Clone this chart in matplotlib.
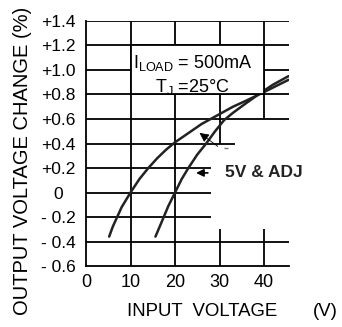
import numpy as np
import matplotlib
matplotlib.use('Agg')
import matplotlib.pyplot as plt
from matplotlib.patches import Rectangle

plt.rcParams['font.family'] = 'Liberation Sans'

# curves
vin_a = [5.2, 6.0, 8.0, 10.0, 12.0, 14.0, 16.0, 18.0, 20.0, 22.0, 24.0,
         26.0, 28.0, 30.0, 33.0, 36.0, 40.0, 45.5]
dv_a = [-0.36, -0.28, -0.12, 0.0, 0.11, 0.20, 0.28, 0.35, 0.41, 0.46, 0.51,
        0.56, 0.60, 0.64, 0.70, 0.75, 0.82, 0.92]
vin_b = [15.6, 17.0, 18.5, 20.0, 21.5, 23.0, 25.0, 27.0, 29.0, 31.0, 33.0,
         36.0, 39.5, 42.0, 45.5]
dv_b = [-0.36, -0.24, -0.11, 0.0, 0.11, 0.20, 0.31, 0.40, 0.50, 0.59, 0.65,
        0.73, 0.82, 0.88, 0.95]

xticks = [0, 10, 20, 30, 40]
yticks = [1.4, 1.2, 1.0, 0.8, 0.6, 0.4, 0.2, 0.0, -0.2, -0.4, -0.6]
ylabels = ['+1.4', '+1.2', '+1.0', '+0.8', '+0.6', '+0.4', '+0.2', '0',
           '- 0.2', '- 0.4', '- 0.6']

fig = plt.figure(figsize=(3.42, 3.27), dpi=100)
ax = fig.add_axes([0.2515, 0.1865, 0.5935, 0.7493])
xmax = 45.6
ax.set_xlim(0, xmax)
ax.set_ylim(-0.6, 1.4)

lw = 1.3
# partial grid, like the original
ax.hlines([1.4, 1.2, 0.8, 0.6, -0.4], 0, xmax, color='black', lw=lw)
ax.hlines(1.0, 0, 10, color='black', lw=lw)
ax.hlines(1.0, 40, xmax, color='black', lw=lw)
ax.hlines(0.4, 0, 33.5, color='black', lw=lw)
ax.hlines([0.2, 0.0, -0.2], 0, 28, color='black', lw=lw)
ax.vlines(10, -0.6, 1.4, color='black', lw=lw)
ax.vlines(20, -0.6, 0.8, color='black', lw=lw)
ax.vlines([20, 30], 1.2, 1.4, color='black', lw=lw)
ax.vlines(30, 0.4, 0.8, color='black', lw=lw)
ax.vlines(40, 0.6, 1.4, color='black', lw=lw)
ax.vlines([30, 40], -0.6, -0.3, color='black', lw=lw)

ax.plot(vin_a, dv_a, color='#222222', lw=1.8, solid_capstyle='round',
        solid_joinstyle='round')
ax.plot(vin_b, dv_b, color='#222222', lw=1.8, solid_capstyle='round',
        solid_joinstyle='round')

ax.add_patch(Rectangle((10, 0.8), 30, 0.4, facecolor='white',
                       edgecolor='black', lw=lw, zorder=3))
ax.text(24, 1.06, r'I$_{\mathregular{LOAD}}$ = 500mA', ha='center',
        va='center', fontsize=13, zorder=4)
ax.text(24, 0.86, r'T$_{\mathregular{J}}$ =25°C', ha='center',
        va='center', fontsize=13, zorder=4)

ax.annotate('', xy=(25.0, 0.50), xytext=(30.1, 0.363),
            arrowprops=dict(arrowstyle='-|>', color='black', lw=0.6,
                            mutation_scale=14))
ax.hlines(0.36, 31.0, 32.0, color='#777777', lw=1)
ax.annotate('', xy=(24.1, 0.16), xytext=(28.0, 0.16),
            arrowprops=dict(arrowstyle='-|>', color='black', lw=1.2,
                            mutation_scale=11))
ax.text(31.3, 0.16, '5V & ADJ', fontsize=12.5, fontweight='bold',
        va='center', ha='left', color='#222222')

for s in ['top', 'right']:
    ax.spines[s].set_visible(False)
for s in ['left', 'bottom']:
    ax.spines[s].set_linewidth(lw)

ax.set_xticks(xticks)
ax.set_xticklabels([str(v) for v in xticks], fontsize=13)
ax.set_yticks(yticks)
ax.set_yticklabels(ylabels, fontsize=12.5, ha='center')
ax.tick_params(axis='x', length=0, pad=6)
ax.tick_params(axis='y', length=0, pad=20)

fig.text(127 / 342, 1 - 312 / 327, 'INPUT  VOLTAGE', fontsize=13.4,
         ha='left', va='center')
fig.text(325 / 342, 1 - 312 / 327, '(V)', fontsize=13.4,
         ha='center', va='center')
fig.text(23 / 342, 1 - 161 / 327, 'OUTPUT VOLTAGE CHANGE (%)', fontsize=14.5,
         rotation=90, ha='center', va='center')

fig.savefig('out.png', dpi=100)
